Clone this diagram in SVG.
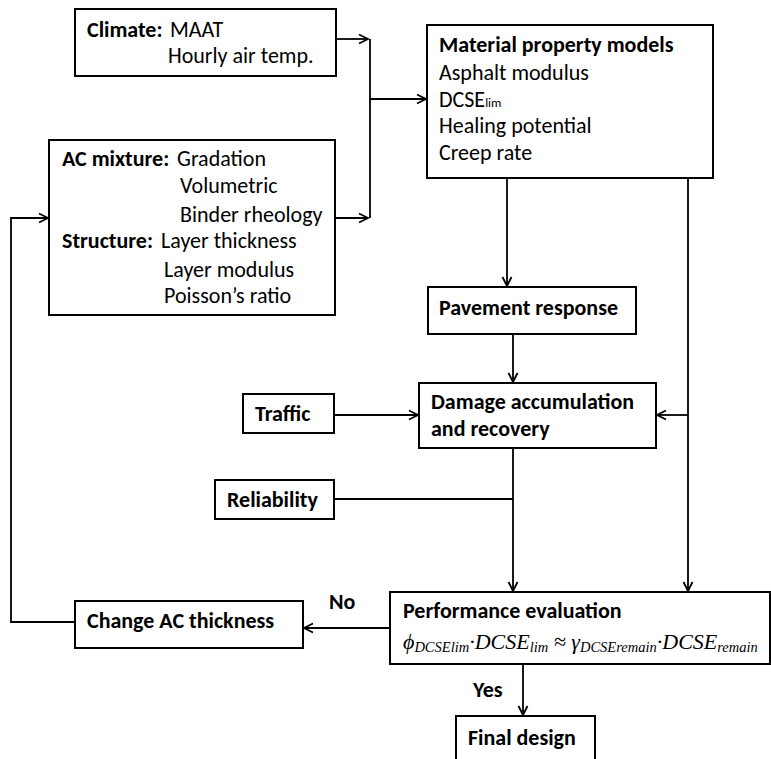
<svg xmlns="http://www.w3.org/2000/svg" width="771" height="759" viewBox="0 0 771 759">
<defs>
<marker id="arr" markerWidth="12" markerHeight="12" refX="10" refY="5" orient="auto" markerUnits="userSpaceOnUse" viewBox="0 0 12 10">
<path d="M1,0.5 L10,5 L1,9.5" fill="none" stroke="#000" stroke-width="1.8"/>
</marker>
</defs>
<style>
rect{fill:#fff;stroke:#000;stroke-width:2}
text{font-family:Carlito,Lato,"Open Sans",sans-serif;font-size:22px;fill:#000}
.b{font-weight:bold}
.math{font-family:"Liberation Serif",serif;font-style:italic;font-size:22px}
.sub{font-size:14.5px}
.c line,.c polyline{stroke:#000;stroke-width:1.8;fill:none}
</style>
<rect x="0" y="0" width="771" height="759" style="stroke:none"/>
<g class="c" id="connectors">
<line x1="336" y1="39" x2="368" y2="39" marker-end="url(#arr)"/>
<line x1="335" y1="218" x2="368" y2="218" marker-end="url(#arr)"/>
<line x1="370" y1="39" x2="370" y2="218"/>
<line x1="370" y1="99" x2="426" y2="99" marker-end="url(#arr)"/>
<line x1="507" y1="178" x2="507" y2="286" marker-end="url(#arr)"/>
<line x1="688" y1="178" x2="688" y2="591" marker-end="url(#arr)"/>
<line x1="513" y1="334" x2="513" y2="382" marker-end="url(#arr)"/>
<line x1="688" y1="415" x2="657" y2="415" marker-end="url(#arr)"/>
<line x1="334" y1="415" x2="418" y2="415" marker-end="url(#arr)"/>
<line x1="334" y1="499" x2="513" y2="499"/>
<line x1="513" y1="448" x2="513" y2="591" marker-end="url(#arr)"/>
<line x1="390" y1="628" x2="304" y2="628" marker-end="url(#arr)"/>
<polyline points="75,622 11,622 11,218 48,218" marker-end="url(#arr)"/>
<line x1="523" y1="664" x2="523" y2="715" marker-end="url(#arr)"/>
<text x="329" y="609" class="b">No</text>
<text x="473" y="697" class="b">Yes</text>
</g>
<g id="climate">
<rect x="75" y="9" width="261" height="67"/>
<text x="87" y="37"><tspan class="b">Climate:</tspan><tspan x="170">MAAT</tspan></text>
<text x="168" y="63">Hourly air temp.</text>
</g>
<g id="inputs">
<rect x="49" y="140" width="286" height="175"/>
<text x="62" y="166"><tspan class="b">AC mixture:</tspan><tspan x="177">Gradation</tspan></text>
<text x="180" y="193">Volumetric</text>
<text x="180" y="222">Binder rheology</text>
<text x="62" y="248"><tspan class="b">Structure:</tspan><tspan x="161">Layer thickness</tspan></text>
<text x="164" y="277">Layer modulus</text>
<text x="164" y="303">Poisson’s ratio</text>
</g>
<g id="material">
<rect x="427" y="25" width="286" height="153"/>
<text x="439" y="52" class="b">Material property models</text>
<text x="439" y="80">Asphalt modulus</text>
<text x="439" y="107">DCSE<tspan style="font-size:13px">lim</tspan></text>
<text x="439" y="133">Healing potential</text>
<text x="439" y="160">Creep rate</text>
</g>
<g id="pavement">
<rect x="428" y="287" width="208" height="47"/>
<text x="439" y="315" class="b">Pavement response</text>
</g>
<g id="damage">
<rect x="419" y="383" width="237" height="65"/>
<text x="431" y="409" class="b">Damage accumulation</text>
<text x="431" y="436" class="b">and recovery</text>
</g>
<g id="traffic">
<rect x="243" y="394" width="91" height="39"/>
<text x="255" y="421" class="b">Traffic</text>
</g>
<g id="reliability">
<rect x="215" y="480" width="119" height="39"/>
<text x="227" y="507" class="b">Reliability</text>
</g>
<g id="change">
<rect x="75" y="601" width="228" height="47"/>
<text x="87" y="628" class="b">Change AC thickness</text>
</g>
<g id="performance">
<rect x="390" y="592" width="380" height="72"/>
<text x="403" y="618" class="b">Performance evaluation</text>
<text x="403" y="649" class="math">ϕ<tspan class="sub" dy="3">DCSElim</tspan><tspan dy="-3">·DCSE</tspan><tspan class="sub" dy="3">lim</tspan><tspan dy="-3"> ≈ γ</tspan><tspan class="sub" dy="3">DCSEremain</tspan><tspan dy="-3">·DCSE</tspan><tspan class="sub" dy="3">remain</tspan></text>
</g>
<g id="final">
<rect x="456" y="716" width="139" height="50"/>
<text x="468" y="745" class="b">Final design</text>
</g>
</svg>
